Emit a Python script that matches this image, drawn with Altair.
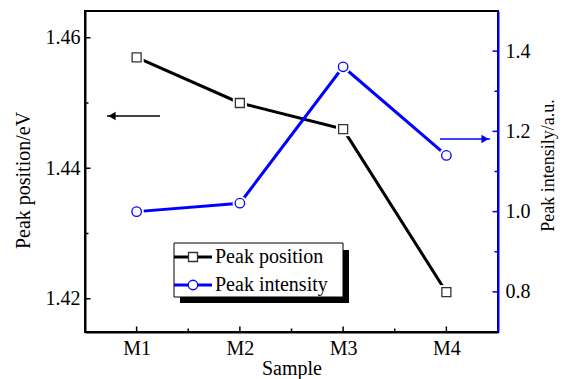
import altair as alt
import pandas as pd

# ---- data ----
samples = ["M1", "M2", "M3", "M4"]
sample_pos = [1, 2, 3, 4]
peak_position = [1.457, 1.450, 1.446, 1.421]      # left axis (eV)
peak_intensity = [1.0, 1.021, 1.361, 1.14]        # right axis (a.u.)

left_major = [1.42, 1.44, 1.46]
left_minor = [1.43, 1.45]
right_major = [0.8, 1.0, 1.2, 1.4]
right_minor = [0.9, 1.1, 1.3]
x_major = [1, 2, 3, 4]
x_minor = [1.5, 2.5, 3.5]

left_arrow_x = [0.713, 1.226]
left_arrow_y = [1.448]
right_arrow_x = [3.938, 4.423]
right_arrow_y = [1.181]

FONT = "Liberation Serif"
BLUE = "#0000FF"
W, H = 413, 321

main = pd.DataFrame({"x": sample_pos, "sample": samples,
                     "pos": peak_position, "inten": peak_intensity})

label_expr = "[" + ",".join("'%s'" % s for s in samples) + "][datum.value - 1]"

xscale = alt.Scale(domain=[0.5, 4.5], nice=False, zero=False)
lscale = alt.Scale(domain=[1.4149, 1.4641], nice=False, zero=False)
rscale = alt.Scale(domain=[0.7, 1.5], nice=False, zero=False)

x_axis = alt.Axis(values=x_major, labelExpr=label_expr, title="Sample",
                  domainColor="black", labelPadding=6, titlePadding=0)
l_axis = alt.Axis(values=left_major, format=".2f", title="Peak position/eV",
                  domainColor="black", labelPadding=5, titlePadding=12, titleY=169)
r_axis = alt.Axis(values=right_major, format=".1f", title="Peak intensily/a.u.",
                  orient="right", domainColor=BLUE, labelPadding=7, titlePadding=9,
                  titleAngle=270, titleBaseline="top", titleFontSize=18, titleY=154)


def X(field="x"):
    return alt.X(field + ":Q", scale=xscale, axis=x_axis)


def YL(field):
    return alt.Y(field + ":Q", scale=lscale, axis=l_axis)


def YR(field):
    return alt.Y(field + ":Q", scale=rscale, axis=r_axis)


# ---------- left-scale layer ----------
pos_line = alt.Chart(main).mark_line(color="black", strokeWidth=3).encode(
    x=X(), y=YL("pos"))
pos_halo = alt.Chart(main).mark_point(shape="square", filled=True, color="white",
                                      size=200, opacity=1).encode(x=X(), y=YL("pos"))
pos_pts = alt.Chart(main).mark_point(shape="square", fill="white", stroke="#333333",
                                     strokeWidth=1.3, size=81, opacity=1).encode(
    x=X(), y=YL("pos"))

l_ticks_major = alt.Chart(pd.DataFrame({"pos": left_major})).mark_rule(
    color="black", strokeWidth=1.5).encode(y=YL("pos"), x=alt.value(0), x2=alt.value(5.5))
l_ticks_minor = alt.Chart(pd.DataFrame({"pos": left_minor})).mark_rule(
    color="black", strokeWidth=1.5).encode(y=YL("pos"), x=alt.value(0), x2=alt.value(3.5))

x_ticks_major = alt.Chart(pd.DataFrame({"x": x_major})).mark_rule(
    color="black", strokeWidth=1.5).encode(x=X(), y=alt.value(H), y2=alt.value(H - 5.5))
x_ticks_minor = alt.Chart(pd.DataFrame({"x": x_minor})).mark_rule(
    color="black", strokeWidth=1.5).encode(x=X(), y=alt.value(H), y2=alt.value(H - 3.5))

la = pd.DataFrame({"x": [left_arrow_x[0]], "x2": [left_arrow_x[1]], "pos": left_arrow_y})
l_arrow = alt.Chart(la).mark_rule(color="black", strokeWidth=1.5).encode(
    x=X(), x2="x2:Q", y=YL("pos"))
l_head = alt.Chart(la).mark_point(shape="triangle-left", filled=True, color="black",
                                  size=70, opacity=1, xOffset=5).encode(x=X(), y=YL("pos"))

left_layer = alt.layer(pos_line, pos_halo, pos_pts, l_ticks_major, l_ticks_minor,
                       x_ticks_major, x_ticks_minor, l_arrow, l_head)

# ---------- right-scale layer ----------
int_line = alt.Chart(main).mark_line(color=BLUE, strokeWidth=3).encode(
    x=X(), y=YR("inten"))
int_halo = alt.Chart(main).mark_point(shape="circle", filled=True, color="white",
                                      size=210, opacity=1).encode(x=X(), y=YR("inten"))
int_pts = alt.Chart(main).mark_point(shape="circle", fill="white", stroke=BLUE,
                                     strokeWidth=1.3, size=90, opacity=1).encode(
    x=X(), y=YR("inten"))

r_ticks_major = alt.Chart(pd.DataFrame({"inten": right_major})).mark_rule(
    color=BLUE, strokeWidth=1.5).encode(y=YR("inten"), x=alt.value(W), x2=alt.value(W - 5.5))
r_ticks_minor = alt.Chart(pd.DataFrame({"inten": right_minor})).mark_rule(
    color=BLUE, strokeWidth=1.5).encode(y=YR("inten"), x=alt.value(W), x2=alt.value(W - 3.5))

ra = pd.DataFrame({"x": [right_arrow_x[0]], "x2": [right_arrow_x[1]], "inten": right_arrow_y})
r_arrow = alt.Chart(ra).mark_rule(color=BLUE, strokeWidth=1.5).encode(
    x=X(), x2="x2:Q", y=YR("inten"))
r_head = alt.Chart(ra).mark_point(shape="triangle-right", filled=True, color=BLUE,
                                  size=70, opacity=1, xOffset=-5).encode(
    x=X("x2"), y=YR("inten"))

right_layer = alt.layer(int_line, int_halo, int_pts, r_ticks_major, r_ticks_minor,
                        r_arrow, r_head)

# ---------- legend (drawn) ----------
one = pd.DataFrame({"a": [0]})
shadow = alt.Chart(one).mark_rect(color="black").encode(
    x=alt.value(95), x2=alt.value(264), y=alt.value(239), y2=alt.value(292))
box = alt.Chart(one).mark_rect(fill="white", stroke="black", strokeWidth=1).encode(
    x=alt.value(89), x2=alt.value(258), y=alt.value(232), y2=alt.value(286))
leg_l1 = alt.Chart(one).mark_rule(color="black", strokeWidth=3).encode(
    x=alt.value(89), x2=alt.value(127), y=alt.value(246))
leg_l2 = alt.Chart(one).mark_rule(color=BLUE, strokeWidth=3).encode(
    x=alt.value(89), x2=alt.value(127), y=alt.value(274))
leg_p1 = alt.Chart(one).mark_point(shape="square", fill="white", stroke="#333333",
                                   strokeWidth=1.3, size=81, opacity=1).encode(
    x=alt.value(108), y=alt.value(246))
leg_p2 = alt.Chart(one).mark_point(shape="circle", fill="white", stroke=BLUE,
                                   strokeWidth=1.3, size=90, opacity=1).encode(
    x=alt.value(108), y=alt.value(274))
leg_t1 = alt.Chart(one).mark_text(text="Peak position", align="left", baseline="middle",
                                  font=FONT, fontSize=20, color="black").encode(
    x=alt.value(130), y=alt.value(246))
leg_t2 = alt.Chart(one).mark_text(text="Peak intensity", align="left", baseline="middle",
                                  font=FONT, fontSize=20, color="black").encode(
    x=alt.value(130), y=alt.value(274))
legend = alt.layer(shadow, box, leg_l1, leg_l2, leg_p1, leg_p2, leg_t1, leg_t2)

chart = alt.layer(left_layer, right_layer, legend).resolve_scale(
    y="independent"
).properties(
    width=W, height=H,
    autosize=alt.AutoSizeParams(type="none"),
    padding={"left": 85, "top": 11, "right": 563 - 85 - W, "bottom": 379 - 11 - H},
    background="white",
).configure_view(
    stroke="black", strokeWidth=2
).configure_axis(
    labelFont=FONT, titleFont=FONT, labelFontSize=20, titleFontSize=20,
    labelColor="black", titleColor="black", titleFontWeight="normal",
    ticks=False, grid=False, domainWidth=2,
)

chart.save("out.html", embed_options={"renderer": "svg", "actions": False})
